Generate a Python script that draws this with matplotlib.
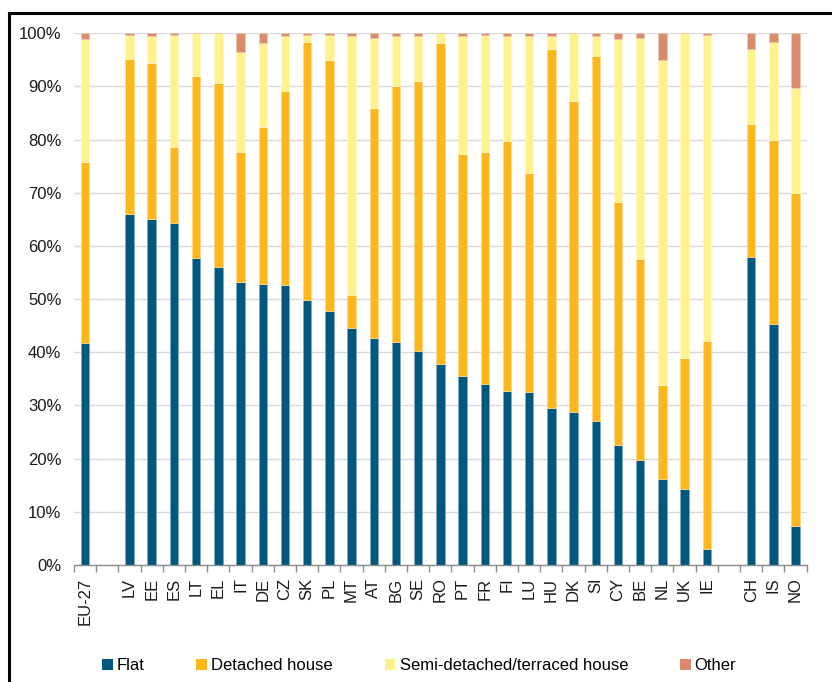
import matplotlib
matplotlib.use("Agg")
import matplotlib.pyplot as plt
from matplotlib.lines import Line2D
from matplotlib.ticker import FixedLocator, FuncFormatter
import numpy as np

plt.rcParams['font.family'] = ['Liberation Sans', 'DejaVu Sans']

countries = ["EU-27", "LV", "EE", "ES", "LT", "EL", "IT", "DE", "CZ", "SK", "PL", "MT",
             "AT", "BG", "SE", "RO", "PT", "FR", "FI", "LU", "HU", "DK", "SI", "CY",
             "BE", "NL", "UK", "IE", "CH", "IS", "NO"]
# slot positions (gaps after EU-27 and after IE)
slots = [0] + list(range(2, 29)) + [30, 31, 32]

flat = [41.7, 66.0, 65.0, 64.4, 57.8, 56.0, 53.3, 52.9, 52.7, 49.9, 47.8, 44.5,
        42.6, 42.0, 40.3, 37.8, 35.5, 34.0, 32.8, 32.5, 29.6, 28.8, 27.1, 22.5,
        19.7, 16.1, 14.3, 3.0, 58.0, 45.3, 7.3]
detached = [34.1, 29.2, 29.5, 14.2, 34.2, 34.7, 24.4, 29.4, 36.5, 48.5, 47.1, 6.3,
            43.4, 48.1, 50.7, 60.4, 41.8, 43.7, 47.0, 41.3, 67.4, 58.5, 68.6, 45.8,
            37.9, 17.7, 24.7, 39.1, 25.0, 34.7, 62.6]
semi = [23.1, 4.5, 5.0, 21.1, 8.0, 9.3, 18.7, 15.9, 10.3, 1.3, 4.8, 48.7,
        13.2, 9.4, 8.5, 1.8, 22.2, 22.0, 19.7, 25.7, 2.5, 12.7, 3.8, 30.6,
        41.6, 61.1, 61.0, 57.6, 14.0, 18.4, 19.8]
other = [1.1, 0.3, 0.5, 0.3, 0.0, 0.0, 3.6, 1.8, 0.5, 0.3, 0.3, 0.5,
         0.8, 0.5, 0.5, 0.0, 0.5, 0.3, 0.5, 0.5, 0.5, 0.0, 0.5, 1.1,
         0.8, 5.1, 0.0, 0.3, 3.0, 1.6, 10.3]

series_names = ["Flat", "Detached house", "Semi-detached/terraced house", "Other"]
colors = ["#00587F", "#FDB71A", "#FFF18C", "#D98B6B"]
edge_cols = ["#7FA9C0", "#FED88C", "#FFF8C6", "#ECC5B5"]

fig = plt.figure(figsize=(8.32, 6.82), dpi=100)
ax = fig.add_axes([74/832, 1 - 565/682, (806.7 - 74)/832, (565 - 33.3)/682])

x = np.array(slots, dtype=float)
bottom = np.zeros(len(countries))
handles = []
for vals, name, c, ec in zip([flat, detached, semi, other], series_names, colors, edge_cols):
    v = np.array(vals)
    b = ax.bar(x, v, width=0.38, bottom=bottom, color=c, edgecolor=ec, linewidth=0.6,
               label=name, zorder=3)
    handles.append(b)
    bottom += v

ax.set_xlim(-0.5, 32.5)
ax.set_ylim(0, 100)

ax.yaxis.set_major_locator(FixedLocator(np.arange(0, 101, 10)))
ax.yaxis.set_major_formatter(FuncFormatter(lambda v, p: f"{int(v)}%"))
ax.tick_params(axis='y', length=0, pad=9, labelsize=12, colors='#1a1a1a')
ax.grid(axis='y', color='#D9D9D9', linewidth=1.0, zorder=0)

ax.set_xticks(slots)
ax.set_xticklabels(countries, rotation=90, fontsize=12, color='#1a1a1a')
ax.tick_params(axis='x', which='major', length=0, pad=9)
ax.set_xticks(np.arange(-0.5, 33, 1.0), minor=True)
ax.tick_params(axis='x', which='minor', length=5, color='#8C8C8C', width=1, direction='out')

for s in ['top', 'right', 'left']:
    ax.spines[s].set_visible(False)
ax.spines['bottom'].set_color('#8C8C8C')
ax.spines['bottom'].set_linewidth(1.0)
ax.spines['bottom'].set_zorder(4)

leg = fig.legend(handles=handles, labels=series_names, loc='center',
                 bbox_to_anchor=(419/832, 1 - 666/682), ncol=4, frameon=False,
                 fontsize=12, handlelength=0.65, handleheight=0.65,
                 handletextpad=0.25, columnspacing=3.1, borderaxespad=0)
for h in leg.legend_handles:
    h.set_edgecolor('none')

# outer frame lines (top and left)
fig.add_artist(Line2D([8.7/832, 1.0], [1 - 13.3/682, 1 - 13.3/682],
                      transform=fig.transFigure, color='black', linewidth=2.2))
fig.add_artist(Line2D([8.7/832, 8.7/832], [0.0, 1 - 13.3/682],
                      transform=fig.transFigure, color='black', linewidth=2.2))

fig.savefig("out.png", dpi=100)
